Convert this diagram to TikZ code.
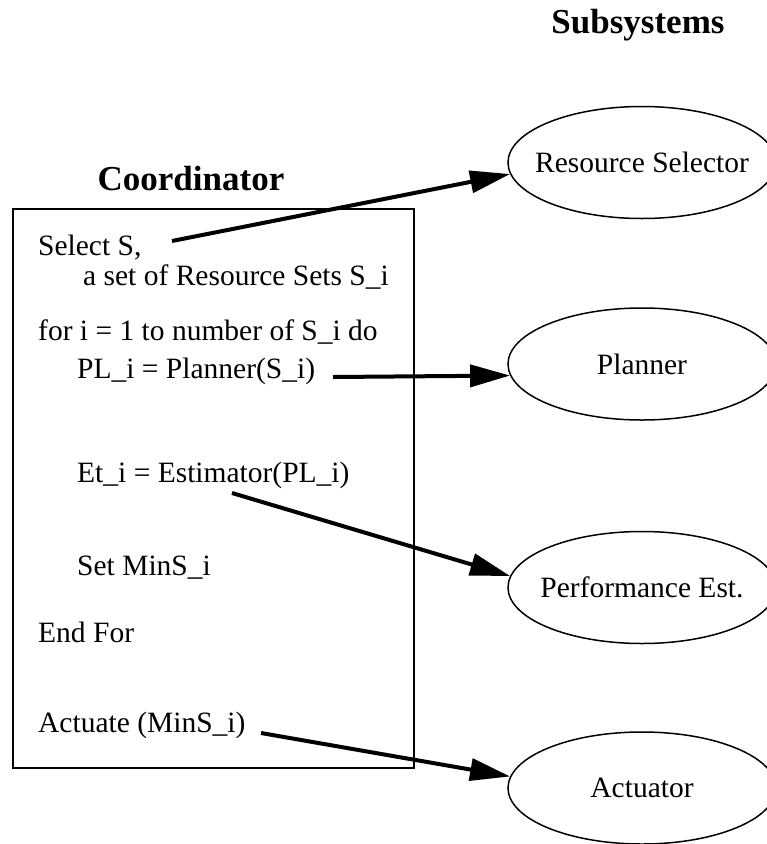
\documentclass[tikz,border=0pt]{standalone}
\usepackage{fontspec}
\setmainfont{Liberation Serif}
\usetikzlibrary{shapes.geometric,arrows.meta}
\begin{document}
\begin{tikzpicture}[x=1pt,y=-1pt,
  txt/.style={anchor=base west, inner sep=0pt, font=\fontsize{29.5}{35}\selectfont},
  ttl/.style={anchor=base, inner sep=0pt, font=\fontsize{35}{42}\selectfont\bfseries},
  sub/.style={ellipse, draw, line width=1.5pt, minimum width=268pt, minimum height=112pt, inner sep=0pt, font=\fontsize{29.5}{35}\selectfont},
  arr/.style={line width=4pt, -{Triangle[length=40pt,width=22pt]}}]
\useasboundingbox (0,0) rectangle (767,844);

% titles
\node[ttl] (tsub) at (638,33) {Subsystems};
\node[ttl] (tcoord) at (191,190) {Coordinator};

% coordinator box
\node[draw, line width=1.7pt, minimum width=401pt, minimum height=559pt, anchor=north west, inner sep=0pt] (box) at (12,208) {};

% coordinator text
\node[txt] (l1) at (38,255) {Select S,};
\node[txt] (l2) at (83,285) {a set of Resource Sets S\_i};
\node[txt] (l3) at (38,340) {for i = 1 to number of S\_i do};
\node[txt] (l4) at (77,378) {PL\_i = Planner(S\_i)};
\node[txt] (l5) at (77,482) {Et\_i = Estimator(PL\_i)};
\node[txt] (l6) at (77,575) {Set MinS\_i};
\node[txt] (l7) at (38,642) {End For};
\node[txt] (l8) at (38,732) {Actuate (MinS\_i)};

% subsystems
\node[sub] (rs) at (642,162.5) {\makebox[0pt]{Resource Selector}};
\node[sub] (pl) at (642,364) {\makebox[0pt]{Planner}};
\node[sub] (pe) at (642,587.5) {\makebox[0pt]{Performance Est.}};
\node[sub] (ac) at (642,788) {\makebox[0pt]{Actuator}};

% arrow start points
\coordinate (s1) at (172,241);
\coordinate (s2) at (333,377);
\coordinate (s3) at (232,493);
\coordinate (s4) at (261,733);

\draw[arr] (s1) -- (rs.185);
\draw[arr] (s2) -- (pl.185);
\draw[arr] (s3) -- (pe.175);
\draw[arr] (s4) -- (ac.175);
\end{tikzpicture}
\end{document}
